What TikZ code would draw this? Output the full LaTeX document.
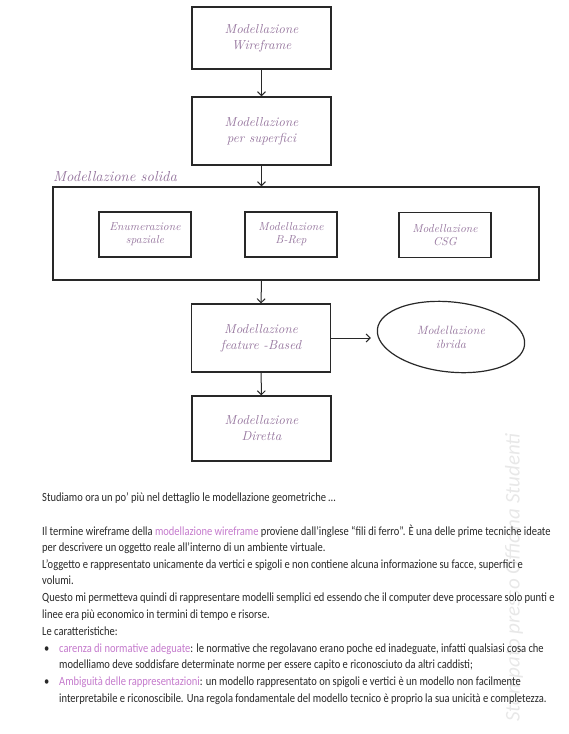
\documentclass[tikz,border=0pt]{standalone}
\usepackage{fontspec}
\setmainfont{Carlito}[FakeStretch=0.84]
\newfontfamily\mano{lmroman10-italic.otf}
\newfontfamily\filig{Carlito}
\usetikzlibrary{positioning,shapes.geometric,arrows.meta}
\definecolor{penna}{RGB}{150,118,158}
\definecolor{evid}{RGB}{196,122,204}
\definecolor{inchiostro}{RGB}{40,40,40}

\tikzset{
  >={Straight Barb[length=4pt,width=8pt]},
  blocco/.style={draw=inchiostro,line width=1.2pt,minimum width=139pt,minimum height=66pt,
    align=center,text=penna,font=\mano\fontsize{13}{16}\selectfont},
  blocchetto/.style={blocco,minimum width=92pt,minimum height=45pt,font=\mano\fontsize{11.5}{13}\selectfont},
  freccia/.style={draw=inchiostro,line width=1pt,->},
  riga/.style={anchor=base west,inner sep=0pt,text=inchiostro,font=\fontsize{12.5}{14}\selectfont},
}

\begin{document}
\begin{tikzpicture}[x=1pt,y=-1pt]
\useasboundingbox (0,0) rectangle (569,734);
% schema delle modellazioni
\node[blocco,minimum height=62pt] (wire) at (261.5,38) {Modellazione\\ Wireframe};
\node[blocco,minimum height=68pt] (superf) at (261.5,131) {Modellazione\\ per superfici};
\node[draw=inchiostro,line width=1.2pt,minimum width=486pt,minimum height=93pt] (solida) at (296,233.5) {};
\node[anchor=south west,inner sep=0pt,text=penna,font=\mano\fontsize{14.5}{14.5}\selectfont] (titsolida) at (53,182) {Modellazione solida};
\node[blocchetto] (enum) at (145,234.5) {Enumerazione\\ spaziale};
\node[blocchetto] (brep) at (291,234.5) {Modellazione\\ B-Rep};
\node[blocchetto] (csg) at (445,235) {Modellazione\\ CSG};
\node[blocco,minimum height=68pt] (feature) at (261,338) {Modellazione\\ feature -Based};
\node[ellipse,minimum width=148pt,minimum height=70pt,
  text=penna,align=center,font=\mano\fontsize{12}{14}\selectfont] (ibrida) at (451,337) {Modellazione\\ ibrida};
\draw[inchiostro,line width=1.2pt,rotate around={-6:(ibrida.center)}] (ibrida.center) ellipse (74 and 35);
\node[blocco,minimum height=65pt] (diretta) at (261.5,428.5) {Modellazione\\ Diretta};
\draw[freccia] (wire) -- (superf);
\draw[freccia] (superf.south) -- (superf.south|-solida.north);
\draw[freccia] (superf.south|-solida.south) -- (feature.north);
\draw[freccia,shorten >=6pt] (feature.east) -- (feature.east-|ibrida.west);
\draw[freccia] (feature) -- (diretta);
% filigrana
\node[rotate=90,anchor=west,inner sep=0pt,text=black!9,font=\filig\itshape\fontsize{21}{21}\selectfont] (filigrana) at (514,722) {Stampato presso Officina Studenti};
% testo
\node[riga] (r1) at (42,501) {Studiamo ora un po’ più nel dettaglio le modellazione geometriche …};
\node[riga] (r2) at (42,535) {Il termine wireframe della \textcolor{evid}{modellazione wireframe} proviene dall’inglese “fili di ferro”. È una delle prime tecniche ideate};
\node[riga] (r3) at (42,551.5) {per descrivere un oggetto reale all’interno di un ambiente virtuale.};
\node[riga] (r4) at (42,568) {L’oggetto e rappresentato unicamente da vertici e spigoli e non contiene alcuna informazione su facce, superfici e};
\node[riga] (r5) at (42,584.5) {volumi.};
\node[riga] (r6) at (42,601.5) {Questo mi permetteva quindi di rappresentare modelli semplici ed essendo che il computer deve processare solo punti e};
\node[riga] (r7) at (42,618) {linee era più economico in termini di tempo e risorse.};
\node[riga] (r8) at (42,635) {Le caratteristiche:};
\node[riga] (p1) at (44,652) {•};
\node[riga] (r9) at (59,652) {\textcolor{evid}{carenza di normative adeguate}: le normative che regolavano erano poche ed inadeguate, infatti qualsiasi cosa che};
\node[riga] (r10) at (59,668.5) {modelliamo deve soddisfare determinate norme per essere capito e riconosciuto da altri caddisti;};
\node[riga] (p2) at (44,685.5) {•};
\node[riga] (r11) at (59,685.5) {\textcolor{evid}{Ambiguità delle rappresentazioni}: un modello rappresentato on spigoli e vertici è un modello non facilmente};
\node[riga] (r12) at (59,702) {interpretabile e riconoscibile. Una regola fondamentale del modello tecnico è proprio la sua unicità e completezza.};
\end{tikzpicture}
\end{document}
